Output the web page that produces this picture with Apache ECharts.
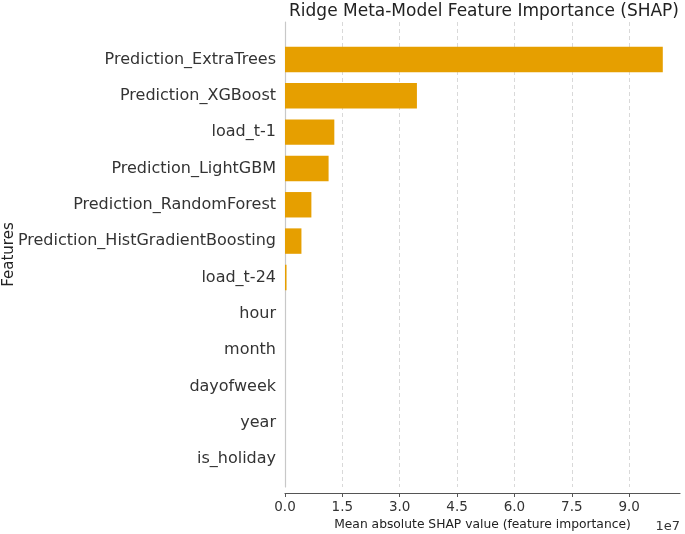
<!DOCTYPE html>
<html>
<head>
<meta charset="utf-8">
<script src="https://cdn.jsdelivr.net/npm/echarts@6/dist/echarts.min.js"></script>
<style>
html,body{margin:0;padding:0;background:#fff;}
#chart{width:685px;height:534px;}
</style>
</head>
<body>
<div id="chart"></div>
<script>
const categories = ["Prediction_ExtraTrees","Prediction_XGBoost","load_t-1","Prediction_LightGBM","Prediction_RandomForest","Prediction_HistGradientBoosting","load_t-24","hour","month","dayofweek","year","is_holiday"];
const shapValues = [98800000, 34500000, 12900000, 11400000, 6900000, 4300000, 400000, 0, 0, 0, 0, 0];
const xTickStep = 15000000;
const xMax = 103300000;
const titleText = "Ridge Meta-Model Feature Importance (SHAP)";
const xLabel = "Mean absolute SHAP value (feature importance)";
const yLabel = "Features";
const scaleLabel = "1e7";

const FONT = "DejaVu Sans";
const chart = echarts.init(document.getElementById('chart'), null, {renderer:'canvas'});
chart.setOption({
  animation:false,
  backgroundColor:'#ffffff',
  textStyle:{fontFamily:FONT},
  title:[
    {text:titleText, left:479, top:-2, textAlign:'center',
     textStyle:{fontFamily:FONT, fontSize:17, fontWeight:'normal', color:'#222'}},
    {text:scaleLabel, right:0, top:515,
     textStyle:{fontFamily:FONT, fontSize:13, fontWeight:'normal', color:'#333'}}
  ],
  grid:[
    {left:285, right:5, top:22, bottom:47, outerBoundsMode:'none', containLabel:false},
    {left:285, right:5, top:41.3, bottom:56.8, outerBoundsMode:'none', containLabel:false}
  ],
  xAxis:[
    {gridIndex:0, type:'value', min:0, max:xMax, interval:xTickStep, offset:6,
     axisLine:{show:true, onZero:false, lineStyle:{color:'#555', width:1.2}},
     axisTick:{show:true, length:4, lineStyle:{color:'#555'}},
     axisLabel:{fontFamily:FONT, fontSize:13.5, color:'#333', margin:7, showMaxLabel:false,
       formatter:function(v){return (v/1e7).toFixed(1);}},
     splitLine:{show:true, showMaxLine:false, lineStyle:{color:'#d9d9d9', type:[4,3], width:1}},
     name:xLabel, nameLocation:'middle', nameGap:24,
     nameTextStyle:{fontFamily:FONT, fontSize:12.3, color:'#222'}},
    {gridIndex:1, type:'value', min:0, max:xMax, interval:xTickStep, show:false}
  ],
  yAxis:[
    {gridIndex:0, type:'value', min:0, max:1,
     axisLine:{show:true, onZero:false, lineStyle:{color:'#c8c8c8', width:1.2}},
     axisTick:{show:false}, axisLabel:{show:false}, splitLine:{show:false},
     name:yLabel, nameLocation:'middle', nameRotate:90, nameGap:268,
     nameTextStyle:{fontFamily:FONT, fontSize:15, color:'#222'}},
    {gridIndex:1, type:'category', inverse:true, data:categories,
     axisLine:{show:false}, axisTick:{show:false},
     axisLabel:{fontFamily:FONT, fontSize:16, color:'#333', margin:9},
     splitLine:{show:false}}
  ],
  series:[
    {type:'bar', xAxisIndex:1, yAxisIndex:1, data:shapValues, barWidth:'70%',
     itemStyle:{color:'#E69F00', borderWidth:0}}
  ]
});
</script>
</body>
</html>
